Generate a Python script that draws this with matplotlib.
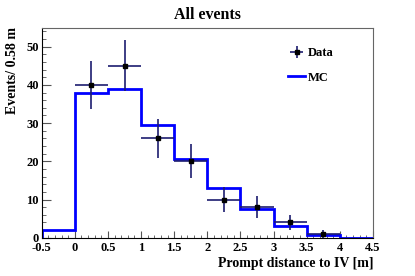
import matplotlib
matplotlib.use("Agg")
import matplotlib.pyplot as plt
import numpy as np

# binning (m)
bin_edges = [-0.5, 0.0, 0.5, 1.0, 1.5, 2.0, 2.5, 3.0, 3.5, 4.0, 4.5]
mc_counts = [2.0, 38.0, 39.0, 29.6, 20.6, 13.1, 7.4, 3.1, 0.8, 0.0]

data_x = [0.25, 0.75, 1.25, 1.75, 2.25, 2.75, 3.25, 3.75]
data_y = [40, 45, 26, 20, 10, 8, 4, 1]

x_ticks = [-0.5, 0, 0.5, 1, 1.5, 2, 2.5, 3, 3.5, 4, 4.5]
x_tick_labels = ["-0.5", "0", "0.5", "1", "1.5", "2", "2.5", "3", "3.5", "4", "4.5"]
y_ticks = [0, 10, 20, 30, 40, 50]

plt.rcParams["font.family"] = ["Liberation Serif", "DejaVu Serif"]
plt.rcParams["font.weight"] = "bold"

fig = plt.figure(figsize=(4.15, 2.76), dpi=100)
ax = fig.add_axes([0.1005, 0.1388, 0.798, 0.761])

ax.stairs(mc_counts, bin_edges, color="#0000ff", lw=2.0, label="MC", zorder=2)

data_err = np.sqrt(data_y)
ax.errorbar(data_x, data_y, yerr=data_err, xerr=0.25, fmt="s", ms=3,
            color="black", ecolor="#1c1c70", elinewidth=1.2, capsize=0,
            label="Data", zorder=3)

ax.set_xlim(-0.5, 4.5)
ax.set_ylim(0, 55)
ax.set_xticks(x_ticks)
ax.set_xticklabels(x_tick_labels)
ax.set_yticks(y_ticks)
ax.set_xticks(np.arange(-0.5, 4.51, 0.1), minor=True)
ax.set_yticks(np.arange(0, 55, 2), minor=True)

ax.tick_params(axis="both", which="both", direction="in", top=False, right=False,
               colors="#555555", labelcolor="black", labelsize=9)
ax.tick_params(axis="y", which="major", length=6.5, pad=2)
ax.tick_params(axis="y", which="minor", length=3.2)
ax.tick_params(axis="x", which="major", length=5, pad=3)
ax.tick_params(axis="x", which="minor", length=2.5)
for lbl in ax.get_xticklabels() + ax.get_yticklabels():
    lbl.set_fontweight("bold")

ax.spines["left"].set_color("black")
ax.spines["bottom"].set_color("black")
ax.spines["top"].set_color("#666666")
ax.spines["right"].set_color("#666666")

fig.text(0.5, 0.946, "All events", ha="center", va="center",
         fontsize=11.5, fontweight="bold")
fig.text(12 / 415, (276 - 27) / 276, "Events/ 0.58 m", rotation=90,
         ha="center", va="top", fontsize=10, fontweight="bold")
fig.text(373 / 415, 12 / 276, "Prompt distance to IV [m]", ha="right",
         va="center", fontsize=10, fontweight="bold")

handles, labels = ax.get_legend_handles_labels()
ax.legend(handles[::-1], labels[::-1], loc="upper left",
          bbox_to_anchor=(0.71, 0.96), frameon=False,
          handlelength=1.35, handletextpad=0.2, labelspacing=1.0,
          prop={"weight": "bold", "size": 9})

plt.savefig("out.png", dpi=100)
